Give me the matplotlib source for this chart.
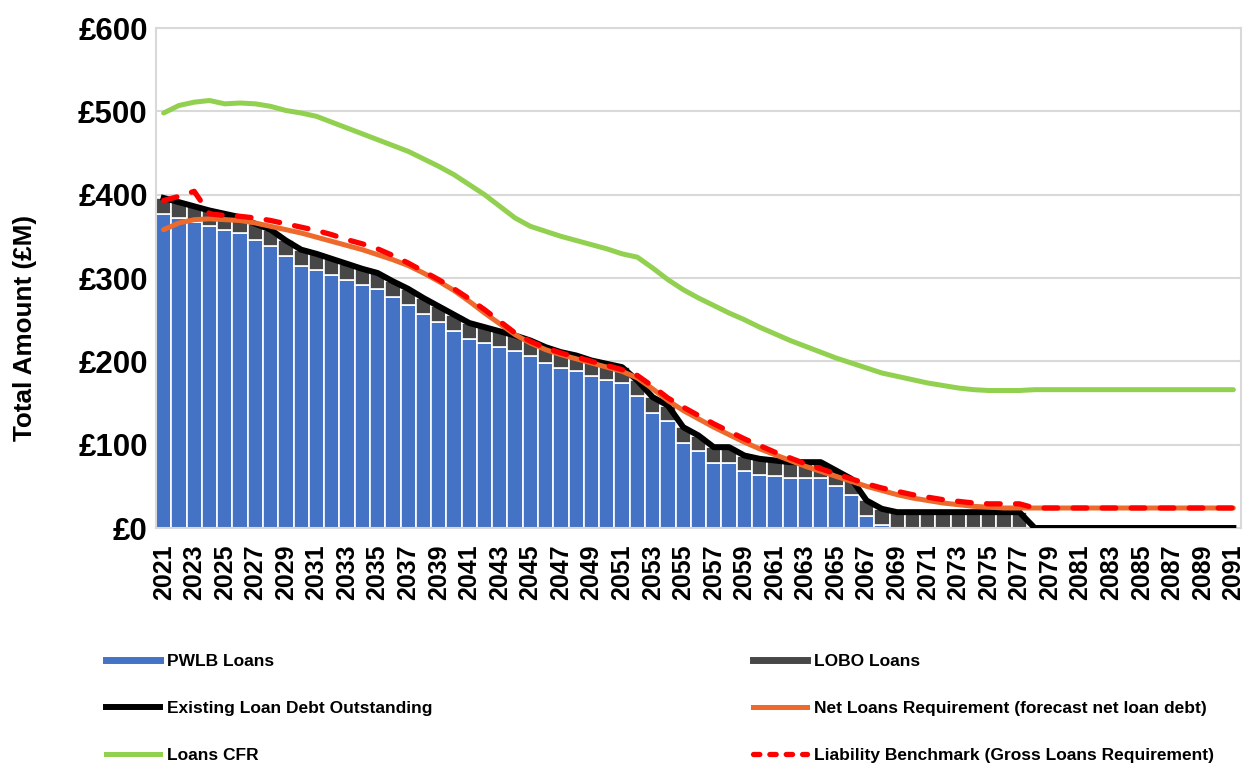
import matplotlib
matplotlib.use("Agg")
import matplotlib.pyplot as plt
from matplotlib.lines import Line2D
import numpy as np

plt.rcParams['font.family'] = ['Liberation Sans', 'DejaVu Sans']
plt.rcParams['font.weight'] = 'bold'

years = list(range(2021, 2092))

# PWLB loans (blue bars), £M
pwlb = [377, 372, 367, 362, 358, 354, 346, 339, 326, 315,
        310, 304, 298, 292, 287, 277, 268, 257, 247, 237,
        227, 222, 217, 212, 206, 198, 192, 188, 182, 178,
        174, 158, 138, 128, 102, 92, 78, 78, 68, 64,
        62, 60, 60, 60, 50, 40, 14, 4, 0, 0,
        0, 0, 0, 0, 0, 0, 0, 0, 0, 0,
        0, 0, 0, 0, 0, 0, 0, 0, 0, 0, 0]

# LOBO loans (grey bars, stacked)
lobo = [19] * 57 + [0] * 14

# Net loans requirement (orange)
net_req = [358, 366, 370, 371, 370, 369, 366, 362, 358, 354,
           349, 344, 339, 334, 328, 322, 315, 306, 296, 285,
           272, 258, 245, 232, 222, 214, 208, 203, 198, 193,
           188, 180, 167, 153, 141, 131, 121, 112, 103, 95,
           88, 81, 74, 68, 62, 56, 50, 45, 40, 36,
           33, 30, 28, 26, 25, 24, 24] + [24] * 14

# Loans CFR (green)
cfr = [498, 507, 511, 513, 509, 510, 509, 506, 501, 498,
       494, 487, 480, 473, 466, 459, 452, 443, 434, 424,
       412, 400, 386, 372, 362, 356, 350, 345, 340, 335,
       329, 325, 312, 298, 286, 276, 267, 258, 250, 241,
       233, 225, 218, 211, 204, 198, 192, 186, 182, 178,
       174, 171, 168, 166, 165, 165, 165] + [166] * 14

# Liability benchmark (red dashed)
liab = [393, 398, 404, 377, 375, 374, 372, 369, 365, 361,
        357, 352, 346, 341, 335, 327, 318, 308, 298, 287,
        275, 262, 248, 234, 224, 216, 210, 205, 200, 195,
        190, 183, 170, 156, 145, 135, 125, 116, 107, 99,
        91, 84, 77, 71, 65, 59, 53, 48, 44, 40,
        37, 34, 32, 30, 29, 29, 29] + [24] * 14

existing = list(np.array(pwlb) + np.array(lobo))

c_blue = '#4472C4'
c_grey = '#474747'
c_orange = '#EE6A2C'
c_green = '#92D050'
c_red = '#FF0000'
c_grid = '#D9D9D9'

fig = plt.figure(figsize=(12.47, 7.67), dpi=100)
ax = fig.add_axes([156/1247, 1-528/767, (1241-156)/1247, 500/767])

x = np.arange(len(years))
ax.bar(x, pwlb, width=1.0, color=c_blue, edgecolor='white', linewidth=1.2, zorder=2)
ax.bar(x, lobo, width=1.0, bottom=pwlb, color=c_grey, edgecolor='white', linewidth=1.2, zorder=2)

ax.plot(x, existing, color='black', lw=4.3, solid_joinstyle='round', zorder=3)
ax.plot(x, net_req, color=c_orange, lw=3.6, solid_capstyle='round', zorder=4)
ax.plot(x, cfr, color=c_green, lw=3.6, solid_capstyle='round', zorder=4)
ax.plot(x, liab, color=c_red, lw=3.8, linestyle=(0, (2.6, 2.9)),
        dash_capstyle='round', zorder=5)

ax.set_xlim(-0.5, len(years) - 0.5)
ax.set_ylim(0, 600)
ax.set_yticks(range(0, 601, 100))
ax.set_yticklabels(['£' + str(v) for v in range(0, 601, 100)], fontsize=22.5, fontweight='bold')
ax.set_xticks(x[::2])
ax.set_xticklabels([str(y) for y in years[::2]], rotation=90, fontsize=18, fontweight='bold')
ax.tick_params(axis='both', length=0)
ax.tick_params(axis='y', pad=6)
ax.tick_params(axis='x', pad=12)
ax.grid(axis='y', color=c_grid, lw=1.5, zorder=0)
ax.set_axisbelow(True)
for s in ax.spines.values():
    s.set_color(c_grid)
    s.set_linewidth(1.5)

ax.set_ylabel('Total Amount (£M)', fontsize=18.8, fontweight='bold', va='center')
ax.yaxis.set_label_coords((25 - 156) / 1085, 0.4)

handles = [
    Line2D([], [], color=c_blue, lw=5),
    Line2D([], [], color='black', lw=4.3),
    Line2D([], [], color=c_green, lw=3.6),
    Line2D([], [], color=c_grey, lw=5),
    Line2D([], [], color=c_orange, lw=3.6),
    Line2D([], [], color=c_red, lw=3.8, linestyle=(0, (1.2, 1.9)), dash_capstyle='round'),
]
labels = ['PWLB Loans', 'Existing Loan Debt Outstanding', 'Loans CFR',
          'LOBO Loans', 'Net Loans Requirement (forecast net loan debt)',
          'Liability Benchmark (Gross Loans Requirement)']
fig.legend(handles, labels, loc='upper left', bbox_to_anchor=(106/1247, 1-654/767),
           ncol=2, frameon=False, borderpad=0, borderaxespad=0,
           prop={'size': 12.5, 'weight': 'bold'}, handlelength=3.1,
           handletextpad=0.4, labelspacing=1.84, columnspacing=18.5)

fig.savefig('out.png', dpi=100)
